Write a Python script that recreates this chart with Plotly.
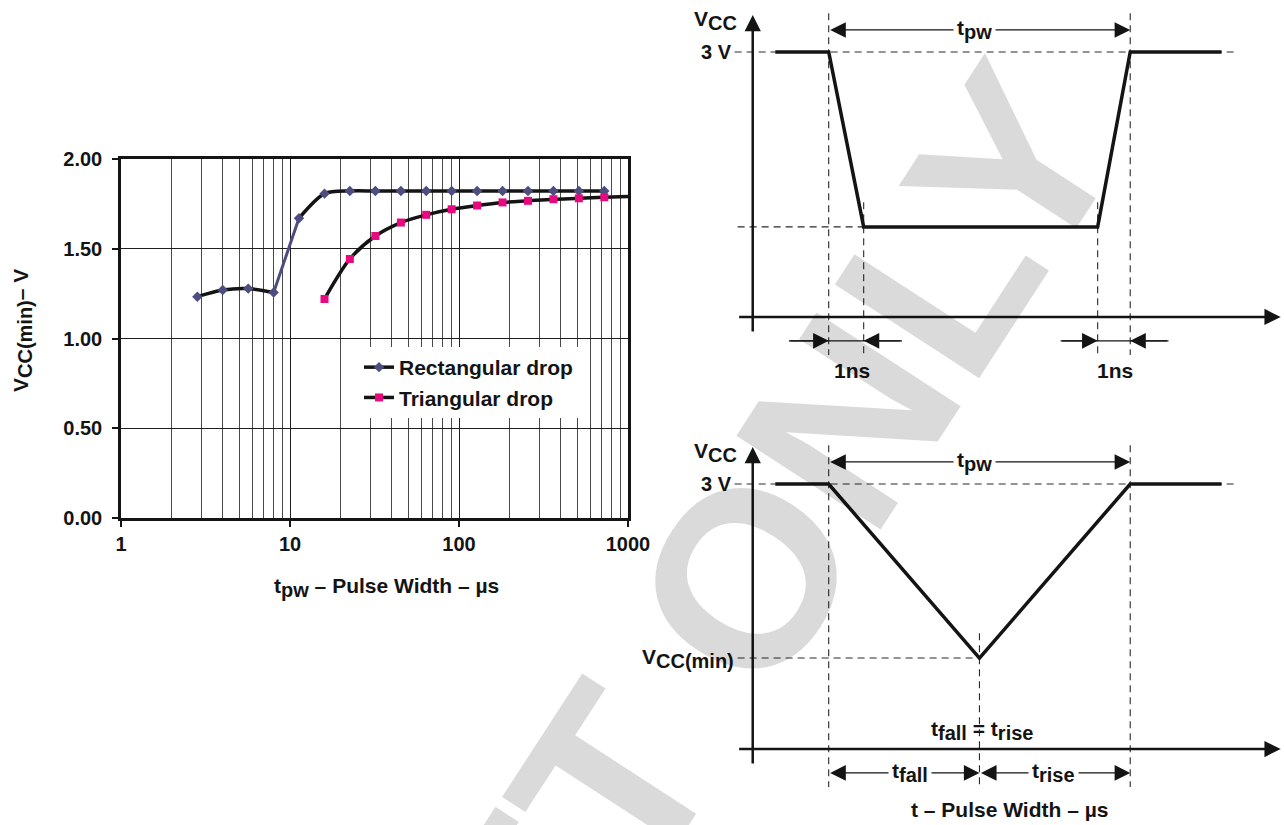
import plotly.graph_objects as go

# ---------------- left chart data ----------------
PW_RECT = [2.83, 4.0, 5.66, 8.0, 11.3, 16.0, 22.6, 32.0, 45.3, 64.0, 90.5,
           128.0, 181.0, 256.0, 362.0, 512.0, 724.0]
V_RECT = [1.233, 1.270, 1.278, 1.256, 1.670, 1.807, 1.822, 1.822, 1.822, 1.822,
          1.822, 1.822, 1.822, 1.822, 1.822, 1.822, 1.822]
PW_TRI = [16.0, 22.6, 32.0, 45.3, 64.0, 90.5, 128.0, 181.0, 256.0, 362.0, 512.0, 724.0]
V_TRI = [1.220, 1.443, 1.571, 1.646, 1.689, 1.720, 1.741, 1.758, 1.767, 1.776, 1.781, 1.787]
PW_TRI_TAIL = [1000.0]
V_TRI_TAIL = [1.791]
X_TICKS = [1, 10, 100, 1000]
X_TICK_TEXT = ["1", "10", "100", "1000"]
Y_TICKS = [0.0, 0.5, 1.0, 1.5, 2.0]
Y_TICK_TEXT = ["0.00", "0.50", "1.00", "1.50", "2.00"]
SERIES_NAMES = ["Rectangular drop", "Triangular drop"]

# ---------------- schematic diagrams (t: tpw = 10 units, V: volts) -------
RECT_WAVE_T = [-1.77, 0.0, 1.16, 8.92, 10.0, 13.03]
RECT_WAVE_V = [3.0, 3.0, 1.02, 1.02, 3.0, 3.0]
TRI_WAVE_T = [-1.77, 0.0, 5.0, 10.0, 13.03]
TRI_WAVE_V = [3.0, 3.0, 1.03, 3.0, 3.0]
V_HIGH = 3.0
T_START, T_END = 0.0, 10.0
T_AXIS = -2.52
H_AXIS_T = [-3.02, 14.99]
V_AXIS_V = [-0.18, 3.42]
HIGH_DASH_T = [-3.12, 13.56]
TPW_V = 3.25
MARK_V = -0.27          # 1ns / tfall arrows level
GUIDE_BOTTOM = -0.43

FONT = "Liberation Sans, Arial, Helvetica, sans-serif"
BLACK = "#141414"
RECT_COLOR = "#4d4d80"
TRI_COLOR = "#e8087f"


def sub(main, s, size=19):
    return f"{main}<sub><span style='font-size:{size}px'>{s}</span></sub>"


fig = go.Figure()

# ---------------- left chart traces ----------------
fig.add_trace(go.Scatter(x=PW_RECT[:4], y=V_RECT[:4], mode="lines",
                         line=dict(color=BLACK, width=3.5, shape="spline", smoothing=0.8),
                         showlegend=False, hoverinfo="skip"))
fig.add_trace(go.Scatter(x=PW_RECT[4:], y=V_RECT[4:], mode="lines",
                         line=dict(color=BLACK, width=3.5, shape="spline", smoothing=0.8),
                         showlegend=False, hoverinfo="skip"))
fig.add_trace(go.Scatter(x=PW_RECT[3:5], y=V_RECT[3:5], mode="lines",
                         line=dict(color=RECT_COLOR, width=3),
                         showlegend=False, hoverinfo="skip"))
fig.add_trace(go.Scatter(x=PW_RECT, y=V_RECT, mode="markers",
                         marker=dict(symbol="diamond", size=8, color=RECT_COLOR),
                         showlegend=False))
fig.add_trace(go.Scatter(x=PW_TRI + PW_TRI_TAIL, y=V_TRI + V_TRI_TAIL, mode="lines",
                         line=dict(color=BLACK, width=3.5, shape="spline", smoothing=0.8),
                         showlegend=False, hoverinfo="skip"))
fig.add_trace(go.Scatter(x=PW_TRI, y=V_TRI, mode="markers",
                         marker=dict(symbol="square", size=8, color=TRI_COLOR),
                         showlegend=False))
# legend entries
fig.add_trace(go.Scatter(x=[None], y=[None], mode="lines+markers", name=SERIES_NAMES[0],
                         line=dict(color=BLACK, width=3.5),
                         marker=dict(symbol="diamond", size=8, color=RECT_COLOR)))
fig.add_trace(go.Scatter(x=[None], y=[None], mode="lines+markers", name=SERIES_NAMES[1],
                         line=dict(color=BLACK, width=3.5),
                         marker=dict(symbol="square", size=8, color=TRI_COLOR)))

annotations = []


def diagram(xr, yr, wave_t, wave_v, low_v, low_t_list):
    gt, gv = [], []
    gt += [HIGH_DASH_T[0], HIGH_DASH_T[1], None]
    gv += [V_HIGH, V_HIGH, None]
    gt += [H_AXIS_T[0], max(low_t_list), None]
    gv += [low_v, low_v, None]
    for t in (T_START, T_END):
        gt += [t, t, None]
        gv += [3.44, GUIDE_BOTTOM, None]
    for t in low_t_list:
        gt += [t, t, None]
        gv += [low_v + 0.28, GUIDE_BOTTOM, None]
    fig.add_trace(go.Scatter(x=gt, y=gv, xaxis=xr, yaxis=yr, mode="lines",
                             line=dict(color="#2a2a2a", width=1.1, dash="7px,5px"),
                             showlegend=False, hoverinfo="skip", cliponaxis=False))
    fig.add_trace(go.Scatter(x=wave_t, y=wave_v, xaxis=xr, yaxis=yr, mode="lines",
                             line=dict(color=BLACK, width=3.5),
                             showlegend=False, hoverinfo="skip", cliponaxis=False))
    ref = dict(xref=xr, yref=yr, axref=xr, ayref=yr)
    annotations.append(dict(x=T_AXIS, y=V_AXIS_V[1], ax=T_AXIS, ay=V_AXIS_V[0], text="",
                            showarrow=True, arrowhead=2, arrowsize=1.3, arrowwidth=2.5,
                            arrowcolor=BLACK, standoff=0, **ref))
    annotations.append(dict(x=H_AXIS_T[1], y=0, ax=H_AXIS_T[0], ay=0, text="",
                            showarrow=True, arrowhead=2, arrowsize=1.3, arrowwidth=2.5,
                            arrowcolor=BLACK, standoff=0, **ref))
    annotations.append(dict(x=T_END, y=TPW_V, ax=T_START, ay=TPW_V, text="",
                            showarrow=True, arrowhead=2, startarrowhead=2, arrowside="end+start",
                            arrowsize=2.6, startarrowsize=2.6, arrowwidth=1.2,
                            arrowcolor=BLACK, standoff=0, startstandoff=0, **ref))
    annotations.append(dict(x=4.84, y=TPW_V, text=sub("t", "pw", 20), showarrow=False,
                            bgcolor="white", borderpad=3, xref=xr, yref=yr,
                            font=dict(size=21)))
    annotations.append(dict(x=T_AXIS - 0.46, y=3.36, text=sub("V", "CC", 20), showarrow=False,
                            xanchor="right", xref=xr, yref=yr, font=dict(size=21)))
    annotations.append(dict(x=T_AXIS - 0.62, y=V_HIGH, text="3 V", showarrow=False,
                            xanchor="right", xref=xr, yref=yr, font=dict(size=20)))


diagram("x2", "y2", RECT_WAVE_T, RECT_WAVE_V, RECT_WAVE_V[2], [RECT_WAVE_T[2], RECT_WAVE_T[3]])
diagram("x3", "y3", TRI_WAVE_T, TRI_WAVE_V, TRI_WAVE_V[2], [TRI_WAVE_T[2]])

# 1ns markers (top diagram)
NS_GROUPS = [(-1.32, RECT_WAVE_T[1], RECT_WAVE_T[2], 2.43, 0.76),
             (7.69, RECT_WAVE_T[3], RECT_WAVE_T[4], 11.27, 9.48)]
for a, b, c, d, lab in NS_GROUPS:
    fig.add_trace(go.Scatter(x=[a, d], y=[MARK_V, MARK_V], xaxis="x2", yaxis="y2", mode="lines",
                             line=dict(color=BLACK, width=1.2), showlegend=False,
                             hoverinfo="skip", cliponaxis=False))
    for tip, tail in ((b, a), (c, d)):
        annotations.append(dict(x=tip, y=MARK_V, ax=tail, ay=MARK_V, text="", showarrow=True,
                                arrowhead=2, arrowsize=2.6, arrowwidth=1.2, arrowcolor=BLACK,
                                standoff=0, xref="x2", yref="y2", axref="x2", ayref="y2"))
    annotations.append(dict(x=lab, y=-0.61, text="1ns", showarrow=False,
                            xref="x2", yref="y2", font=dict(size=21)))

# tfall / trise arrows (bottom diagram)
for t0, t1, lab, txt in ((TRI_WAVE_T[1], TRI_WAVE_T[2], 2.69, sub("t", "fall", 20)),
                         (TRI_WAVE_T[2], TRI_WAVE_T[3], 7.46, sub("t", "rise", 20))):
    annotations.append(dict(x=t1, y=MARK_V, ax=t0, ay=MARK_V, text="", showarrow=True,
                            arrowhead=2, startarrowhead=2, arrowside="end+start",
                            arrowsize=2.6, startarrowsize=2.6, arrowwidth=1.2,
                            arrowcolor=BLACK, standoff=0, startstandoff=0,
                            xref="x3", yref="y3", axref="x3", ayref="y3"))
    annotations.append(dict(x=lab, y=MARK_V, text=txt, showarrow=False, bgcolor="white",
                            borderpad=3, xref="x3", yref="y3", font=dict(size=21)))
annotations.append(dict(x=5.07, y=0.215,
                        text=sub("t", "fall", 20) + " = " + sub("t", "rise", 20),
                        showarrow=False, xref="x3", yref="y3", font=dict(size=21)))
annotations.append(dict(x=6.0, y=-0.68, text="t – Pulse Width – µs", showarrow=False,
                        xref="x3", yref="y3", font=dict(size=21)))
annotations.append(dict(x=T_AXIS - 0.55, y=TRI_WAVE_V[2], text=sub("V", "CC(min)", 20),
                        showarrow=False, xanchor="right", xref="x3", yref="y3",
                        font=dict(size=21)))

# left chart axis titles
annotations.append(dict(x=22 / 1284, y=(825 - 331) / 825, xref="paper", yref="paper",
                        xanchor="center", yanchor="middle",
                        text=sub("V", "CC(min)", 20) + "– V", textangle=-90, showarrow=False,
                        font=dict(size=21)))
annotations.append(dict(x=386 / 1284, y=(825 - 588) / 825, xref="paper", yref="paper",
                        xanchor="center", yanchor="middle",
                        text=sub("t", "pw", 20) + " – Pulse Width – µs", showarrow=False,
                        font=dict(size=21)))

# watermark
annotations.append(dict(x=626 / 1284, y=(825 - 762) / 825, xref="paper", yref="paper",
                        xanchor="center", yanchor="middle",
                        text="DRAFT ONLY", textangle=-57, showarrow=False,
                        font=dict(size=250, color="rgba(0,0,0,0.145)",
                                  family=FONT, weight="bold")))

fig.update_layout(
    width=1284, height=825,
    margin=dict(l=0, r=0, t=0, b=0, pad=0, autoexpand=False),
    paper_bgcolor="white", plot_bgcolor="white",
    font=dict(family=FONT, size=20, color=BLACK, weight="bold"),
    showlegend=True,
    legend=dict(x=359 / 1284, y=(825 - 347) / 825, xanchor="left", yanchor="top",
                bgcolor="white", borderwidth=0, font=dict(size=21, weight="bold"),
                tracegroupgap=0, itemwidth=30),
    xaxis=dict(type="log", range=[0, 3], domain=[121 / 1284, 628 / 1284],
               tickvals=X_TICKS, ticktext=X_TICK_TEXT, ticks="outside", ticklen=6,
               tickwidth=1.5, tickcolor=BLACK, automargin=False,
               showline=True, linecolor=BLACK, linewidth=2.5, mirror=True,
               showgrid=True, gridcolor="#1e1e1e", gridwidth=1,
               minor=dict(dtick="D1", showgrid=True, gridcolor="#4a4a4a", gridwidth=1,
                          ticks=""),
               tickfont=dict(size=20, weight="bold"), ticklabelstandoff=0,
               zeroline=False),
    yaxis=dict(range=[0, 2], domain=[(825 - 518) / 825, (825 - 159) / 825],
               tickvals=Y_TICKS, ticktext=Y_TICK_TEXT, ticks="outside", ticklen=6,
               tickwidth=1.5, tickcolor=BLACK, automargin=False,
               showline=True, linecolor=BLACK, linewidth=2.5, mirror=True,
               showgrid=True, gridcolor="#1e1e1e", gridwidth=1,
               tickfont=dict(size=20, weight="bold"), ticklabelstandoff=6,
               zeroline=False),
    xaxis2=dict(range=[-4.6, 15.1], domain=[690 / 1284, 1.0], visible=False, anchor="y2",
                automargin=False),
    yaxis2=dict(range=[-0.94, 3.589], domain=[(825 - 400) / 825, 1.0], visible=False,
                anchor="x2", automargin=False),
    xaxis3=dict(range=[-4.6, 15.1], domain=[690 / 1284, 1.0], visible=False, anchor="y3",
                automargin=False),
    yaxis3=dict(range=[-0.860, 3.589], domain=[0.0, (825 - 432) / 825], visible=False,
                anchor="x3", automargin=False),
    annotations=annotations,
)

fig.write_html("out.html", config={"displayModeBar": False},
               post_script="document.body.style.margin='0';document.body.style.overflow='hidden';")
